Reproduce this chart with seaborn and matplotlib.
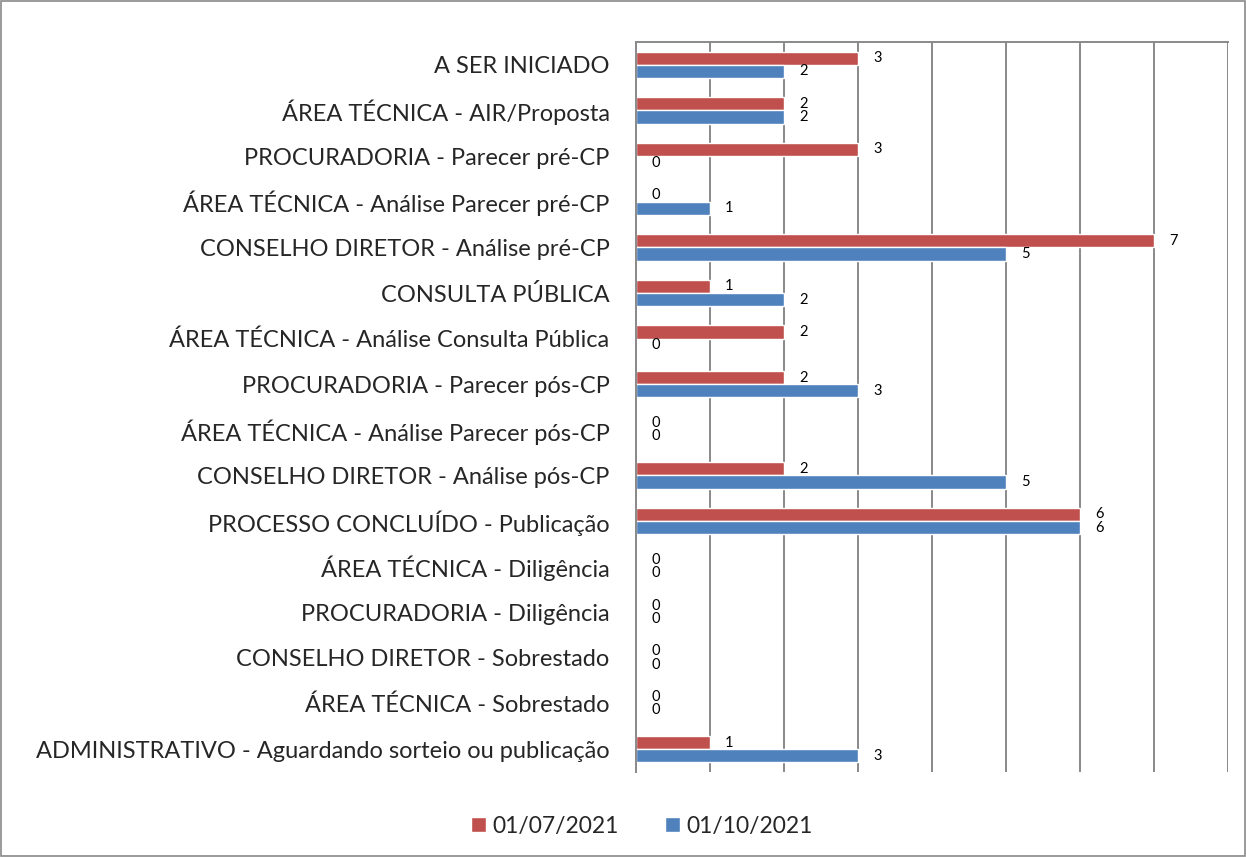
import pandas as pd
import matplotlib.pyplot as plt
import seaborn as sns
from matplotlib.patches import Rectangle

# chart data
etapas = [
    'A SER INICIADO',
    'ÁREA TÉCNICA - AIR/Proposta',
    'PROCURADORIA - Parecer pré-CP',
    'ÁREA TÉCNICA - Análise Parecer pré-CP',
    'CONSELHO DIRETOR - Análise pré-CP',
    'CONSULTA PÚBLICA',
    'ÁREA TÉCNICA - Análise Consulta Pública',
    'PROCURADORIA - Parecer pós-CP',
    'ÁREA TÉCNICA - Análise Parecer pós-CP',
    'CONSELHO DIRETOR - Análise pós-CP',
    'PROCESSO CONCLUÍDO - Publicação',
    'ÁREA TÉCNICA - Diligência',
    'PROCURADORIA - Diligência',
    'CONSELHO DIRETOR - Sobrestado',
    'ÁREA TÉCNICA - Sobrestado',
    'ADMINISTRATIVO - Aguardando sorteio ou publicação',
]
datas = ['01/07/2021', '01/10/2021']
jul = [3, 2, 3, 0, 7, 1, 2, 2, 0, 2, 6, 0, 0, 0, 0, 1]
out = [2, 2, 0, 1, 5, 2, 0, 3, 0, 5, 6, 0, 0, 0, 0, 3]
cores = ['#C0504D', '#4F81BD']

df = pd.DataFrame({
    'etapa': etapas * 2,
    'data': [datas[0]] * len(etapas) + [datas[1]] * len(etapas),
    'valor': jul + out,
})

sns.set_style('white')
plt.rcParams['font.family'] = ['Lato', 'DejaVu Sans']

fig = plt.figure(figsize=(12.46, 8.57), dpi=100)
ax = fig.add_axes([0.5104, 0.0992, 0.4752, 0.8518])

sns.barplot(data=df, y='etapa', x='valor', hue='data', order=etapas,
            hue_order=datas, palette=cores, orient='h', width=0.58,
            saturation=1, ax=ax, legend=True)

for cont in ax.containers:
    ax.bar_label(cont, padding=11, fontsize=10.5, color='black')

ax.set_xlim(0, 8)
ax.set_xticks(range(0, 9))
ax.set_xticklabels([])
ax.grid(axis='x', color='#898989', linewidth=1.4)
ax.set_axisbelow(True)
ax.tick_params(axis='both', length=0)
ax.tick_params(axis='y', labelsize=17, pad=19)
ax.set_xlabel('')
ax.set_ylabel('')
for s in ['bottom', 'right']:
    ax.spines[s].set_visible(False)
for s in ['top', 'left']:
    ax.spines[s].set_color('#898989')
    ax.spines[s].set_linewidth(1.4)

ax.legend(loc='center', bbox_to_anchor=(0.515, 0.036), bbox_transform=fig.transFigure,
          ncol=2, frameon=False, fontsize=16.5, handlelength=0.65, handleheight=0.65,
          handletextpad=0.3, columnspacing=2.0)

fig.patches.append(Rectangle((0.001, 0.001), 0.998, 0.998, transform=fig.transFigure,
                             fill=False, edgecolor='#898989', linewidth=1.2))

fig.savefig('out.png', dpi=100)
